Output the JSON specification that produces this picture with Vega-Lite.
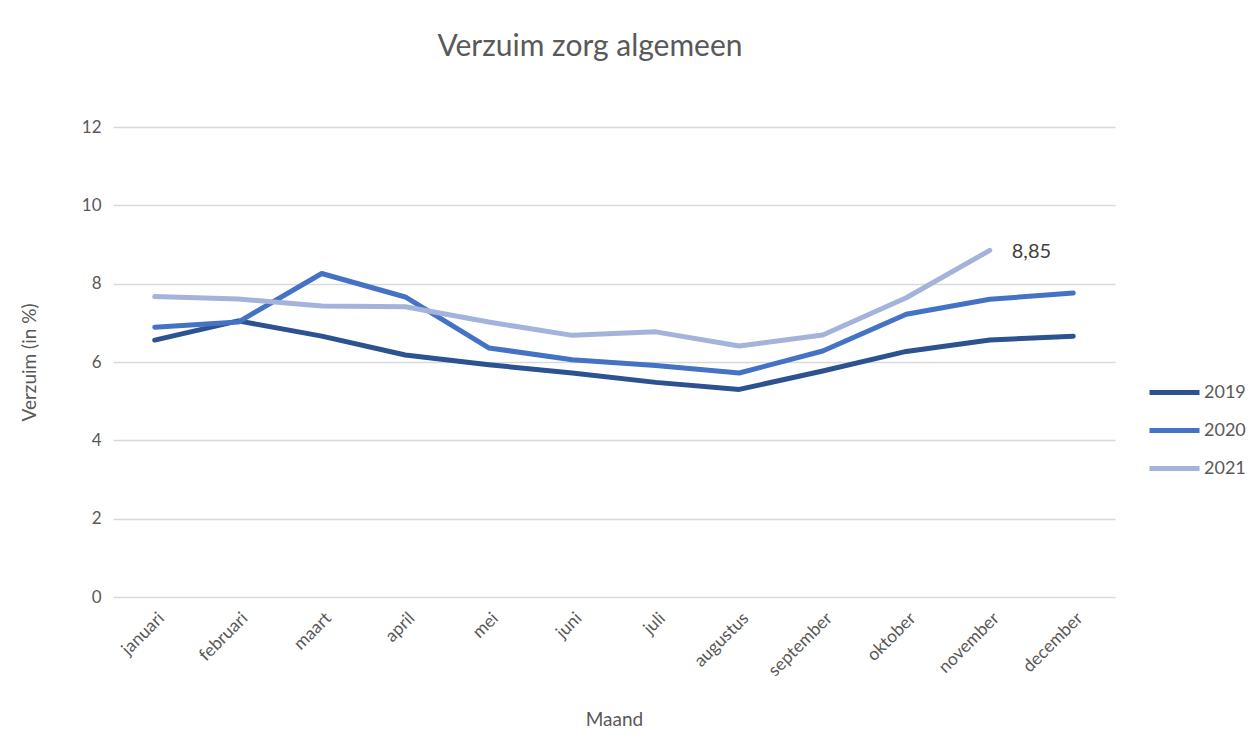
{
  "$schema": "https://vega.github.io/schema/vega-lite/v6.json",
  "width": 1002,
  "height": 470,
  "autosize": {"type": "none"},
  "padding": {"left": 113, "top": 127, "right": 136, "bottom": 155},
  "background": "white",
  "config": {"font": "Lato", "view": {"stroke": null}},
  "title": {"text": "Verzuim zorg algemeen", "fontSize": 30, "fontWeight": "normal", "color": "#595959", "anchor": "middle", "offset": 56, "dx": -24},
  "data": {"values": [
    {"maand": "januari", "jaar": "2019", "v": 6.56},
    {"maand": "februari", "jaar": "2019", "v": 7.05},
    {"maand": "maart", "jaar": "2019", "v": 6.66},
    {"maand": "april", "jaar": "2019", "v": 6.18},
    {"maand": "mei", "jaar": "2019", "v": 5.93},
    {"maand": "juni", "jaar": "2019", "v": 5.72},
    {"maand": "juli", "jaar": "2019", "v": 5.48},
    {"maand": "augustus", "jaar": "2019", "v": 5.30},
    {"maand": "september", "jaar": "2019", "v": 5.77},
    {"maand": "oktober", "jaar": "2019", "v": 6.27},
    {"maand": "november", "jaar": "2019", "v": 6.56},
    {"maand": "december", "jaar": "2019", "v": 6.66},
    {"maand": "januari", "jaar": "2020", "v": 6.89},
    {"maand": "februari", "jaar": "2020", "v": 7.02},
    {"maand": "maart", "jaar": "2020", "v": 8.26},
    {"maand": "april", "jaar": "2020", "v": 7.66},
    {"maand": "mei", "jaar": "2020", "v": 6.36},
    {"maand": "juni", "jaar": "2020", "v": 6.06},
    {"maand": "juli", "jaar": "2020", "v": 5.91},
    {"maand": "augustus", "jaar": "2020", "v": 5.72},
    {"maand": "september", "jaar": "2020", "v": 6.28},
    {"maand": "oktober", "jaar": "2020", "v": 7.22},
    {"maand": "november", "jaar": "2020", "v": 7.60},
    {"maand": "december", "jaar": "2020", "v": 7.76},
    {"maand": "januari", "jaar": "2021", "v": 7.67},
    {"maand": "februari", "jaar": "2021", "v": 7.61},
    {"maand": "maart", "jaar": "2021", "v": 7.43},
    {"maand": "april", "jaar": "2021", "v": 7.41},
    {"maand": "mei", "jaar": "2021", "v": 7.02},
    {"maand": "juni", "jaar": "2021", "v": 6.68},
    {"maand": "juli", "jaar": "2021", "v": 6.77},
    {"maand": "augustus", "jaar": "2021", "v": 6.41},
    {"maand": "september", "jaar": "2021", "v": 6.69},
    {"maand": "oktober", "jaar": "2021", "v": 7.64},
    {"maand": "november", "jaar": "2021", "v": 8.85, "label": "8,85"}
  ]},
  "encoding": {
    "x": {"field": "maand", "type": "ordinal", "sort": null,
      "scale": {"type": "point", "padding": 0.5},
      "axis": {"title": "Maand", "titleFontSize": 19, "titleFontWeight": "normal", "titleColor": "#595959", "titlePadding": 31,
        "labelAngle": -45, "labelFontSize": 17.5, "labelColor": "#595959", "labelPadding": 12,
        "domain": false, "ticks": false, "grid": false}},
    "y": {"field": "v", "type": "quantitative",
      "scale": {"domain": [0, 12]},
      "axis": {"title": "Verzuim (in %)", "titleFontSize": 19, "titleFontWeight": "normal", "titleColor": "#595959", "titlePadding": 42,
        "values": [0, 2, 4, 6, 8, 10, 12], "labelFontSize": 17, "labelColor": "#595959", "labelPadding": 12,
        "domain": false, "ticks": false, "gridColor": "#d9d9d9", "gridWidth": 1.5}}
  },
  "layer": [
    {
      "mark": {"type": "line", "strokeWidth": 5, "strokeCap": "round", "strokeJoin": "round"},
      "encoding": {
        "color": {"field": "jaar", "type": "nominal",
          "scale": {"domain": ["2019", "2020", "2021"], "range": ["#2c5291", "#4472c4", "#a3b3db"]},
          "legend": {"title": null, "orient": "none", "legendX": 1034, "legendY": 238, "symbolType": "stroke", "symbolSize": 2500, "symbolStrokeWidth": 5, "labelFontSize": 18, "labelColor": "#595959", "rowPadding": -10.5, "labelOffset": 2}}
      }
    },
    {
      "transform": [{"filter": "isValid(datum.label)"}],
      "mark": {"type": "text", "align": "left", "dx": 22, "dy": 2, "fontSize": 20, "color": "#404040"},
      "encoding": {"text": {"field": "label"}}
    }
  ]
}
